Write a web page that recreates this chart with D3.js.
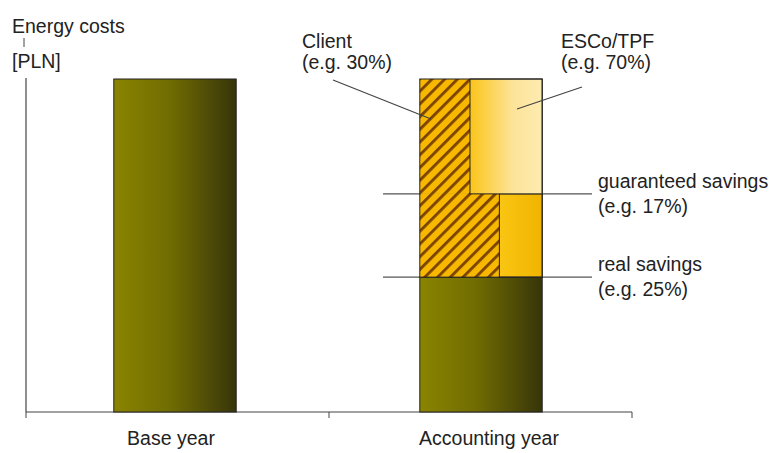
<!DOCTYPE html>
<html>
<head>
<meta charset="utf-8">
<script src="https://cdn.jsdelivr.net/npm/d3@7"></script>
<style>
  body { margin: 0; background: #fff; }
  text { font-family: "Liberation Sans", Arial, sans-serif; fill: #222; font-size: 19.5px; }
</style>
</head>
<body>
<svg width="774" height="453"></svg>
<script>
// chart values (schematic, 0-100 = base year cost)
var categories = ["Base year", "Accounting year"];
var energyCost = [100, 40.5];           // olive bars
var bandFrom = [40.5, 65.5];            // real savings band, then guaranteed band
var bandTo = [65.5, 100];
var clientShare = [0.65, 0.41];         // hatched part of each band
var bandLabels = [["real savings", "(e.g. 25%)"], ["guaranteed savings", "(e.g. 17%)"]];
var shareLabels = [["Client", "(e.g. 30%)"], ["ESCo/TPF", "(e.g. 70%)"]];
var axisLabel = ["Energy costs", "[PLN]"];

var svg = d3.select("svg");

var x = d3.scaleBand()
    .domain(categories)
    .range([22, 634])
    .paddingInner(0.6)
    .paddingOuter(0.3);

var y = d3.scaleLinear()
    .domain([0, 100])
    .range([412, 79]);

var defs = svg.append("defs");

function grad(id, stops) {
    var g = defs.append("linearGradient").attr("id", id)
        .attr("x1", "0%").attr("x2", "100%").attr("y1", "0%").attr("y2", "0%");
    stops.forEach(function(s) {
        g.append("stop").attr("offset", s[0]).attr("stop-color", s[1]);
    });
}
grad("olive", [["0%", "#8a8400"], ["45%", "#716d02"], ["100%", "#37350a"]]);
grad("gold", [["0%", "#fac613"], ["100%", "#f0b400"]]);
grad("light", [["0%", "#fbc51a"], ["60%", "#fde49a"], ["100%", "#fdebb0"]]);

var stripe = defs.append("pattern")
    .attr("id", "hatch")
    .attr("patternUnits", "userSpaceOnUse")
    .attr("width", 9).attr("height", 9)
    .attr("patternTransform", "rotate(45)");
stripe.append("rect").attr("width", 9).attr("height", 9).attr("fill", "#f8b800");
stripe.append("rect").attr("x", 0).attr("width", 2.8).attr("height", 9).attr("fill", "#7a4300");

// axes
svg.append("line")
    .attr("x1", 26).attr("x2", 26).attr("y1", 78).attr("y2", 412)
    .attr("stroke", "#444").attr("stroke-width", 1.2);

var xAxis = svg.append("g")
    .attr("transform", "translate(0,412)");
xAxis.append("line")
    .attr("x1", 26).attr("x2", 632)
    .attr("stroke", "#444").attr("stroke-width", 1.2);
xAxis.selectAll(".tk")
    .data([26, 329, 632])
    .enter().append("line")
    .attr("x1", function(d) { return d; })
    .attr("x2", function(d) { return d; })
    .attr("y1", 0).attr("y2", 6)
    .attr("stroke", "#444");
var labelShift = [-4, 8];
xAxis.selectAll("text")
    .data(categories)
    .enter().append("text")
    .attr("x", function(d, i) { return x(d) + x.bandwidth() / 2 + labelShift[i]; })
    .attr("y", 33)
    .attr("text-anchor", "middle")
    .text(function(d) { return d; });

svg.selectAll(".ylab")
    .data(axisLabel)
    .enter().append("text")
    .attr("x", 12)
    .attr("y", function(d, i) { return 33 + i * 35; })
    .text(function(d) { return d; });
svg.append("line")
    .attr("x1", 24).attr("x2", 24).attr("y1", 38).attr("y2", 47)
    .attr("stroke", "#444");

// band boundary lines (drawn first so the bar hides them)
svg.selectAll(".lvl")
    .data(bandFrom)
    .enter().append("line")
    .attr("x1", 383).attr("x2", 592)
    .attr("y1", function(d) { return y(d); })
    .attr("y2", function(d) { return y(d); })
    .attr("stroke", "#555").attr("stroke-width", 1.2);

// olive bars
svg.selectAll(".cost")
    .data(energyCost)
    .enter().append("rect")
    .attr("x", function(d, i) { return x(categories[i]); })
    .attr("y", function(d) { return y(d); })
    .attr("width", x.bandwidth())
    .attr("height", function(d) { return y(0) - y(d); })
    .attr("fill", "url(#olive)")
    .attr("stroke", "#222").attr("stroke-width", 1);

// savings bands on the accounting year
var acc = x(categories[1]), bw = x.bandwidth();
var bands = svg.selectAll(".band")
    .data(bandFrom)
    .enter().append("g");
bands.append("rect")
    .attr("x", acc)
    .attr("y", function(d, i) { return y(bandTo[i]); })
    .attr("width", function(d, i) { return bw * clientShare[i] + 1; })
    .attr("height", function(d, i) { return y(d) - y(bandTo[i]); })
    .attr("fill", "url(#hatch)");
bands.append("rect")
    .attr("x", function(d, i) { return acc + bw * clientShare[i]; })
    .attr("y", function(d, i) { return y(bandTo[i]); })
    .attr("width", function(d, i) { return bw * (1 - clientShare[i]); })
    .attr("height", function(d, i) { return y(d) - y(bandTo[i]); })
    .attr("fill", function(d, i) { return i == 0 ? "url(#gold)" : "url(#light)"; })
    .attr("stroke", "#222").attr("stroke-width", 1);
svg.append("rect")
    .attr("x", acc)
    .attr("y", y(d3.max(bandTo)))
    .attr("width", bw)
    .attr("height", y(d3.min(bandFrom)) - y(d3.max(bandTo)))
    .attr("fill", "none")
    .attr("stroke", "#222").attr("stroke-width", 1);

bandLabels.forEach(function(lab, i) {
    var t = svg.append("text")
        .attr("x", 598)
        .attr("y", y(bandFrom[i]) - 6);
    t.append("tspan").attr("x", 598).text(lab[0]);
    t.append("tspan").attr("x", 598).attr("dy", 25).text(lab[1]);
});

var shareX = [302, 561];
shareLabels.forEach(function(lab, i) {
    var t = svg.append("text")
        .attr("x", shareX[i])
        .attr("y", 48);
    t.append("tspan").attr("x", shareX[i]).text(lab[0]);
    t.append("tspan").attr("x", shareX[i]).attr("dy", 21).text(lab[1]);
});

// leaders from share labels into the bar
var leaders = [[[333, 80], [431, 119]], [[582, 87], [517, 109]]];
svg.selectAll(".leader")
    .data(leaders)
    .enter().append("path")
    .attr("d", d3.line())
    .attr("stroke", "#444").attr("stroke-width", 1.2)
    .attr("fill", "none");
</script>
</body>
</html>
